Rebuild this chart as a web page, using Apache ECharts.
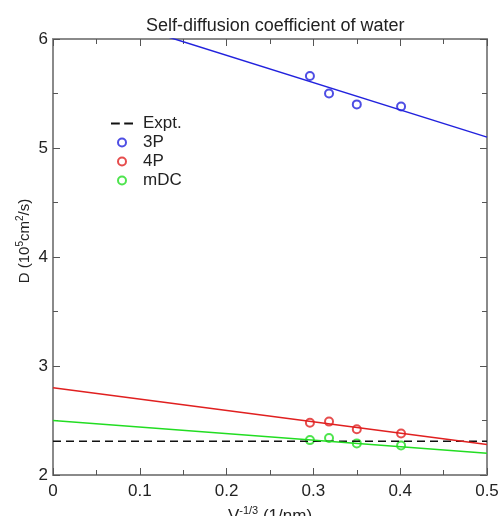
<!DOCTYPE html>
<html><head><meta charset="utf-8">
<script src="https://cdn.jsdelivr.net/npm/echarts@6/dist/echarts.min.js"></script>
<style>html,body{margin:0;padding:0;background:#fff}#c{width:503px;height:516px}</style>
</head><body><div id="c"></div>
<script>
const xPts = [0.296, 0.318, 0.350, 0.401];
const y3P = [5.66, 5.50, 5.40, 5.38];
const y4P = [2.48, 2.49, 2.42, 2.38];
const yMDC = [2.32, 2.34, 2.29, 2.27];
const fitX = [0, 0.5];
const fit3P = [6.35, 5.10];
const fit4P = [2.80, 2.28];
const fitMDC = [2.50, 2.20];
const expt = [2.31, 2.31];
const xTicks = [0, 0.1, 0.2, 0.3, 0.4, 0.5];
const yTicks = [2, 3, 4, 5, 6];

const pairs = (xs, ys) => xs.map((x, i) => [x, ys[i]]);
const font = 'Liberation Sans, Arial, sans-serif';
const axisCol = '#8a8a8a';
const chart = echarts.init(document.getElementById('c'));
const baseX = {
  type: 'value', min: 0, max: 0.5, interval: 0.1,
  axisLine: {show: true, onZero: false, lineStyle: {color: axisCol, width: 2}},
  axisTick: {show: true, inside: true, length: 7, lineStyle: {color: '#555', width: 1}},
  minorTick: {show: true, splitNumber: 2, length: 5, lineStyle: {color: '#555'}},
  splitLine: {show: false}
};
const baseY = {
  type: 'value', min: 2, max: 6, interval: 1,
  axisLine: {show: true, onZero: false, lineStyle: {color: axisCol, width: 2}},
  axisTick: {show: true, inside: true, length: 7, lineStyle: {color: '#555', width: 1}},
  minorTick: {show: true, splitNumber: 2, length: 5, lineStyle: {color: '#555'}},
  splitLine: {show: false}
};
chart.setOption({
  animation: false,
  title: {text: 'Self-diffusion coefficient of water', left: 141, top: 12,
    textStyle: {fontFamily: font, fontSize: 18, fontWeight: 'normal', color: '#222'}},
  grid: {left: 53, right: 16, top: 39, bottom: 41, outerBoundsMode: 'none', containLabel: false},
  legend: {
    orient: 'vertical', left: 106, top: 110, itemGap: 2, itemWidth: 22, itemHeight: 8,
    textStyle: {fontFamily: font, fontSize: 17, color: '#222', padding: [0, 0, 0, 5]},
    data: [
      {name: 'Expt.', icon: 'path://M0,0 h8 v2 h-8z M12,0 h8 v2 h-8z', itemStyle: {color: '#111'}},
      {name: '3P', icon: 'emptyCircle'},
      {name: '4P', icon: 'emptyCircle'},
      {name: 'mDC', icon: 'emptyCircle'}
    ]
  },
  xAxis: [
    Object.assign({}, baseX, {
      position: 'bottom',
      axisLabel: {fontFamily: font, fontSize: 17, color: '#222', margin: 8,
        formatter: v => String(v)},
      name: '{a|V}{s|-1/3}{a| (1/nm)}', nameLocation: 'middle', nameGap: 30,
      nameTextStyle: {rich: {
        a: {fontFamily: font, fontSize: 17, color: '#222'},
        s: {fontFamily: font, fontSize: 11, color: '#222', verticalAlign: 'top', padding: [0, 0, 12, 0]}
      }}
    }),
    Object.assign({}, baseX, {position: 'top', axisLabel: {show: false}})
  ],
  yAxis: [
    Object.assign({}, baseY, {
      position: 'left',
      axisLabel: {fontFamily: font, fontSize: 17, color: '#222', margin: 5},
      name: '{a|D (10}{s|5}{a|cm}{s|2}{a|/s)}', nameLocation: 'middle', nameGap: 18,
      nameMoveOverlap: false,
      nameTextStyle: {padding: [0, 0, 0, 32], rich: {
        a: {fontFamily: font, fontSize: 15, color: '#222'},
        s: {fontFamily: font, fontSize: 10, color: '#222', verticalAlign: 'top', padding: [0, 0, 10, 0]}
      }}
    }),
    Object.assign({}, baseY, {position: 'right', axisLabel: {show: false}})
  ],
  series: [
    {name: 'Expt.', type: 'line', data: pairs(fitX, expt), symbol: 'none',
      lineStyle: {color: '#111', width: 1.5, type: [8, 5]}, itemStyle: {color: '#111'}},
    {name: '3P', type: 'scatter', data: pairs(xPts, y3P), symbol: 'emptyCircle', symbolSize: 8,
      itemStyle: {color: '#2222dd', borderWidth: 1.8}},
    {name: '4P', type: 'scatter', data: pairs(xPts, y4P), symbol: 'emptyCircle', symbolSize: 8,
      itemStyle: {color: '#e02020', borderWidth: 1.8}},
    {name: 'mDC', type: 'scatter', data: pairs(xPts, yMDC), symbol: 'emptyCircle', symbolSize: 8,
      itemStyle: {color: '#22dd22', borderWidth: 1.8}},
    {name: 'fit3P', type: 'line', data: pairs(fitX, fit3P), symbol: 'none', clip: true,
      lineStyle: {color: '#2222dd', width: 1.5}},
    {name: 'fit4P', type: 'line', data: pairs(fitX, fit4P), symbol: 'none',
      lineStyle: {color: '#e02020', width: 1.5}},
    {name: 'fitMDC', type: 'line', data: pairs(fitX, fitMDC), symbol: 'none',
      lineStyle: {color: '#22dd22', width: 1.5}}
  ]
});
</script></body></html>
